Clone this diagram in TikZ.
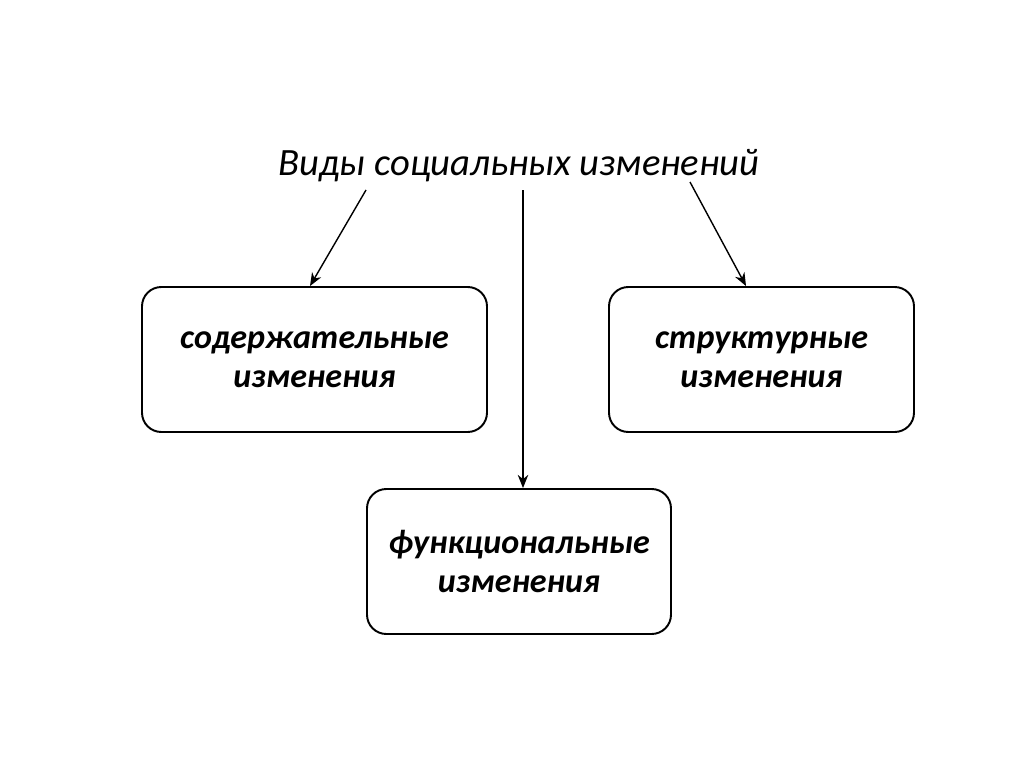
\documentclass[tikz,border=0pt]{standalone}
\usepackage{fontspec}
\setmainfont{Carlito}
\usetikzlibrary{calc,arrows.meta}

\tikzset{
  kind/.style={draw,line width=1.1pt,rounded corners=11pt,align=center,
    font=\fontsize{19.4}{22.5}\selectfont\bfseries\itshape,minimum height=145*0.02cm},
  link/.style={-{Stealth[length=7.5pt,width=6pt]},line width=0.8pt}
}

\begin{document}
\begin{tikzpicture}[x=0.02cm,y=-0.02cm]
          \useasboundingbox[fill=white] (0,0) rectangle (1024,767);
          \node[font=\fontsize{22}{26}\selectfont\itshape] (title) at (519,166) {Виды социальных изменений};
          \node[kind,minimum width=345*0.02cm] (cont) at (314.5,359.5) {содержательные\\изменения};
          \node[kind,minimum width=305*0.02cm] (struct) at (761.5,359.5) {структурные\\изменения};
          \node[kind,minimum width=304*0.02cm] (func) at (519,561.5) {функциональные\\изменения};
          \coordinate (s1) at (366,190);
          \coordinate (s2) at (523,190);
          \coordinate (s3) at (690,182);
          \draw[link] (s1) -- ($(cont.north)+(-4.5,0)$);
          \draw[link] (s2) -- (s2 |- func.north);
          \draw[link] (s3) -- ($(struct.north)+(-15.5,0)$);
        \end{tikzpicture}
\end{document}
